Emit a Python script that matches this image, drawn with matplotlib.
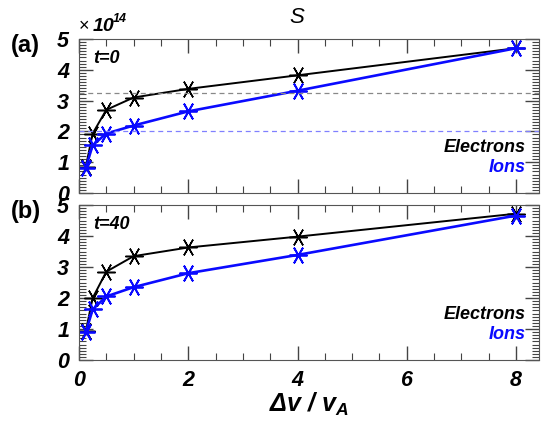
import matplotlib
matplotlib.use("Agg")
from matplotlib import pyplot as plt
from matplotlib.ticker import MultipleLocator

## Data (values in units of 1e14)
dv = [0.125, 0.25, 0.5, 1, 2, 4, 8]
elec_t0 = [0.85, 1.93, 2.70, 3.10, 3.38, 3.82, 4.70]
ions_t0 = [0.82, 1.55, 1.93, 2.19, 2.65, 3.32, 4.70]
elec_t40 = [0.93, 2.00, 2.85, 3.35, 3.63, 3.98, 4.72]
ions_t40 = [0.90, 1.63, 2.05, 2.35, 2.80, 3.39, 4.66]
ref_elec = 3.25
ref_ions = 2.0

panel_tags = ["(a)", "(b)"]
time_tags = ["t=0", "t=40"]

plt.rcParams["font.family"] = ["Liberation Sans", "DejaVu Sans"]
plt.rcParams["font.weight"] = "bold"
plt.rcParams["font.style"] = "italic"
plt.rcParams["axes.labelweight"] = "bold"
plt.rcParams["mathtext.fontset"] = "custom"
plt.rcParams["mathtext.it"] = "Liberation Sans:bold:italic"
plt.rcParams["mathtext.rm"] = "Liberation Sans:bold:italic"

fig = plt.figure(figsize=(5.44, 4.25), dpi=100)
ax_a = fig.add_axes([0.1452, 0.5459, 0.8456, 0.3624])
ax_b = fig.add_axes([0.1452, 0.1529, 0.8456, 0.3647])

asterisk = (6, 2, 30)
blue = "#0a0aff"
series = [(ax_a, elec_t0, ions_t0), (ax_b, elec_t40, ions_t40)]

for i, (ax, elec, ions) in enumerate(series):
    ax.plot(dv, elec, color="black", lw=1.4, marker=asterisk, ms=13, mew=1.1)
    ax.plot(dv, ions, color=blue, lw=1.9, marker=asterisk, ms=13, mew=1.3)

    ax.set_xlim(0, 8.42)
    ax.set_ylim(0, 5)
    ax.xaxis.set_major_locator(MultipleLocator(2))
    ax.xaxis.set_minor_locator(MultipleLocator(0.5))
    ax.yaxis.set_major_locator(MultipleLocator(1))
    ax.yaxis.set_minor_locator(MultipleLocator(0.1))
    ax.tick_params(which="both", direction="in", top=True, right=True, color="#444444")
    ax.tick_params(which="major", length=10, width=1)
    ax.tick_params(which="minor", length=5, width=0.8)
    ax.tick_params(axis="both", labelsize=15.5, pad=7)
    for sp in ax.spines.values():
        sp.set_color("#555555")

    ax.text(0.03, 0.93, time_tags[i], transform=ax.transAxes, fontsize=13,
            va="top", ha="left")
    ax.text(-0.148, 0.96, panel_tags[i], transform=ax.transAxes, fontsize=17,
            fontstyle="normal", va="center", ha="left")
    ax.text(0.97, 0.295, "Electrons", transform=ax.transAxes, fontsize=13,
            ha="right", va="center", color="black")
    ax.text(0.97, 0.165, "Ions", transform=ax.transAxes, fontsize=13,
            ha="right", va="center", color=blue)

# reference levels in panel (a)
ax_a.axhline(ref_elec, color="#888888", lw=0.9, ls=(0, (4, 3)))
ax_a.axhline(ref_ions, color="#8080ff", lw=0.9, ls=(0, (4, 3)))

ax_a.tick_params(labelbottom=False)

ax_b.set_xlabel(r"Δv / v$_{A}$", fontsize=18, labelpad=0)

fig.text(0.145, 0.937, "×", fontsize=13, fontweight="normal", fontstyle="normal",
         ha="left", va="center")
fig.text(0.170, 0.937, "10", fontsize=14, ha="left", va="center")
fig.text(0.207, 0.955, "14", fontsize=9, ha="left", va="center")
fig.text(0.546, 0.958, "S", fontsize=16, fontweight="normal", ha="center", va="center")

fig.savefig("out.png", dpi=100)
